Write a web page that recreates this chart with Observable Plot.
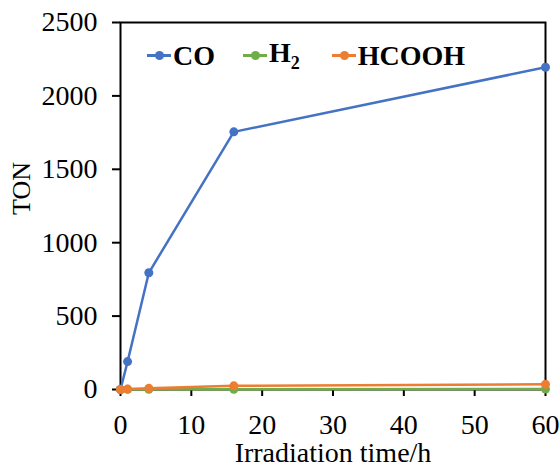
<!DOCTYPE html>
<html>
<head>
<meta charset="utf-8">
<script src="https://cdn.jsdelivr.net/npm/d3@7"></script>
<script src="https://cdn.jsdelivr.net/npm/@observablehq/plot@0.6"></script>
<style>
  html, body { margin: 0; padding: 0; background: #fff; }
  #wrap { position: relative; width: 560px; height: 466px; }
  #legend { position: absolute; left: 147px; top: 37px; display: flex; align-items: center;
    font-family: "Liberation Serif", "Times New Roman", serif; font-weight: bold; font-size: 28px; color: #000; }
  .item { display: flex; align-items: center; margin-right: 28px; }
  .item.h2 { margin-right: 32px; }
  .sw { position: relative; width: 24px; height: 3px; margin-right: 2px; }
  .sw::after { content: ""; position: absolute; left: 8px; top: -3px; width: 9px; height: 9px; border-radius: 50%; background: inherit; }
</style>
</head>
<body>
<div id="wrap">
  <div id="chart"></div>
  <div id="legend"></div>
</div>
<script>
const times = [0, 1, 4, 16, 60];
const co = [0, 190, 795, 1755, 2195];
const h2 = [0, 1, 2, 2, 3];
const hcooh = [0, 3, 8, 25, 35];
const seriesNames = ["CO", "H₂", "HCOOH"];
const seriesColors = ["#4472C4", "#70AD47", "#ED7D31"];
const xTicks = [0, 10, 20, 30, 40, 50, 60];
const yTicks = [0, 500, 1000, 1500, 2000, 2500];
const xLabel = "Irradiation time/h";
const yLabel = "TON";

const rows = [];
[co, h2, hcooh].forEach((vals, i) => {
  vals.forEach((v, j) => rows.push({ t: times[j], v, s: seriesNames[i] }));
});
const font = '"Liberation Serif", "Times New Roman", serif';

const chart = Plot.plot({
  width: 560,
  height: 466,
  marginLeft: 120,
  marginRight: 15,
  marginTop: 22,
  marginBottom: 77,
  style: { fontFamily: font, fontSize: "26px", color: "#000", background: "#fff" },
  x: { domain: [0, 60] },
  y: { domain: [0, 2500] },
  color: { domain: seriesNames, range: seriesColors },
  marks: [
    Plot.frame({ stroke: "#000", strokeWidth: 2 }),
    Plot.axisX({ ticks: xTicks, tickFormat: d3.format("d"), tickSize: 7, tickPadding: 18, strokeWidth: 2, fontSize: 28, fontFamily: font, fontVariant: "normal", label: null }),
    Plot.axisX({ ticks: [], label: xLabel, labelAnchor: "center", labelOffset: 72, labelArrow: "none", fontSize: 28, fontFamily: font }),
    Plot.axisY({ ticks: yTicks, tickFormat: d3.format("d"), tickSize: 8, tickPadding: 15, strokeWidth: 2, fontSize: 28, fontFamily: font, fontVariant: "normal", label: null }),
    Plot.text([yLabel], { frameAnchor: "left", text: d => d, rotate: -90, dx: -99, dy: 9, fontSize: 26, fontFamily: font, fill: "#000" }),
    Plot.line(rows, { x: "t", y: "v", z: "s", stroke: "s", strokeWidth: 2.5 }),
    Plot.dot(rows, { x: "t", y: "v", fill: "s", r: 4.5 })
  ]
});
document.getElementById("chart").appendChild(chart);

const leg = document.getElementById("legend");
seriesNames.forEach((n, i) => {
  const it = document.createElement("div");
  it.className = "item" + (i === 1 ? " h2" : "");
  const sw = document.createElement("div");
  sw.className = "sw";
  sw.style.background = seriesColors[i];
  it.appendChild(sw);
  const lab = document.createElement("span");
  if (i === 1) { lab.innerHTML = "H<sub style='font-size:18px;vertical-align:-7px'>2</sub>"; }
  else lab.textContent = n;
  it.appendChild(lab);
  leg.appendChild(it);
});
</script>
</body>
</html>
